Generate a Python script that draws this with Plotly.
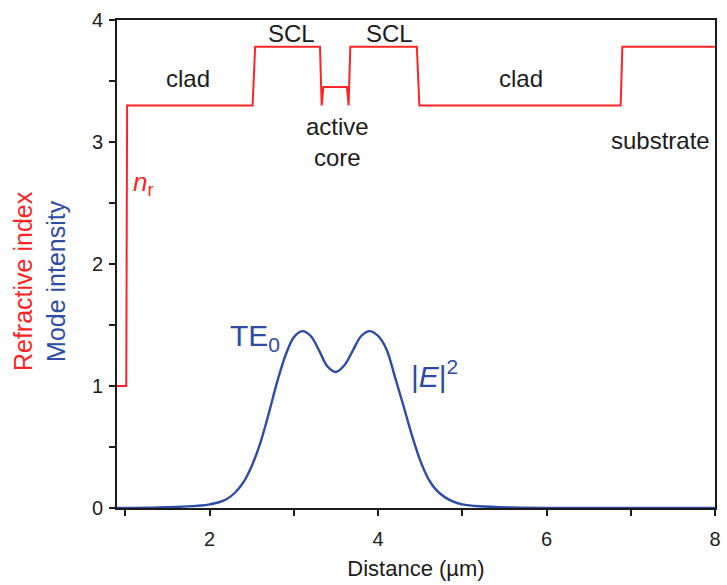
import plotly.graph_objects as go

# Refractive-index profile across the waveguide layers (step profile)
nr_x = [0.90, 1.01, 1.02, 2.51, 2.54, 3.31, 3.33, 3.35, 3.63, 3.65, 3.67, 4.46, 4.49, 6.88, 6.90, 8.00]
nr_y = [1.00, 1.00, 3.30, 3.30, 3.78, 3.78, 3.30, 3.45, 3.45, 3.30, 3.78, 3.78, 3.30, 3.30, 3.78, 3.78]

# TE0 mode intensity |E|^2
te_x = [0.90, 1.40, 1.80, 1.90, 2.00, 2.10, 2.20, 2.30, 2.40, 2.50, 2.60, 2.70, 2.80, 2.90,
        3.00, 3.10, 3.20, 3.30, 3.40, 3.50, 3.60, 3.70, 3.80, 3.90, 4.00, 4.10, 4.20,
        4.30, 4.40, 4.50, 4.60, 4.70, 4.80, 4.90, 5.00, 5.20, 5.60, 6.20, 8.00]
te_y = [0.000, 0.004, 0.015, 0.020, 0.030, 0.045, 0.072, 0.125, 0.210, 0.345, 0.530, 0.770,
        1.030, 1.250, 1.400, 1.450, 1.410, 1.290, 1.160, 1.115, 1.170, 1.290, 1.410, 1.450,
        1.410, 1.300, 1.075, 0.840, 0.600, 0.390, 0.235, 0.140, 0.085, 0.050, 0.030, 0.014,
        0.004, 0.000, 0.000]

x_major = [2, 4, 6, 8]
x_minor = [1, 3, 5, 7]
y_major = [0, 1, 2, 3, 4]
y_minor = [0.5, 1.5, 2.5, 3.5]

# Layer labels: (text, x, y)
layer_labels = [
    ("clad", 1.74, 3.52),
    ("SCL", 2.97, 3.89),
    ("SCL", 4.13, 3.89),
    ("active<br>core", 3.52, 3.00),
    ("clad", 5.70, 3.52),
    ("substrate", 7.35, 3.01),
]

RED = "#ff2424"
BLUE = "#2d4ca3"
INK = "#1c1c1c"
FONT = "Liberation Sans, Arial, sans-serif"

fig = go.Figure()
fig.add_trace(go.Scatter(x=te_x, y=te_y, mode="lines", line=dict(color=BLUE, width=2.4, shape="spline", smoothing=1.0),
                         hoverinfo="skip", showlegend=False))
fig.add_trace(go.Scatter(x=nr_x, y=nr_y, mode="lines", line=dict(color=RED, width=2),
                         hoverinfo="skip", showlegend=False))

for text, x, y in layer_labels:
    fig.add_annotation(x=x, y=y, text=text, showarrow=False, xanchor="center", yanchor="middle",
                       font=dict(family=FONT, size=24, color=INK))

fig.add_annotation(x=1.22, y=2.66, text="<i>n</i><sub>r</sub>", showarrow=False,
                   font=dict(family=FONT, size=26, color=RED))
fig.add_annotation(x=2.54, y=1.40, text="TE<sub>0</sub>", showarrow=False,
                   font=dict(family=FONT, size=30, color=BLUE))
fig.add_annotation(x=4.67, y=1.10, text="|<i>E</i>|<sup>2</sup>", showarrow=False,
                   font=dict(family=FONT, size=30, color=BLUE))

# Two-colour y-axis title
fig.add_annotation(x=-0.184, y=0.465, xref="paper", yref="paper", text="Refractive index", textangle=-90,
                   showarrow=False, font=dict(family=FONT, size=25, color=RED))
fig.add_annotation(x=-0.129, y=0.465, xref="paper", yref="paper", text="Mode intensity", textangle=-90,
                   showarrow=False, font=dict(family=FONT, size=25, color=BLUE))

axis_common = dict(showgrid=False, zeroline=False, showline=True, linecolor=INK, linewidth=2,
                   mirror=True, ticks="outside", ticklen=6, tickwidth=1.5, tickcolor=INK,
                   tickfont=dict(family=FONT, size=20, color=INK), layer="below traces")
minor_common = dict(ticks="outside", ticklen=6, tickwidth=1.5, tickcolor=INK, showgrid=False)

fig.update_layout(
    width=727, height=585,
    margin=dict(l=117, r=6, t=20, b=77),
    paper_bgcolor="white", plot_bgcolor="white",
    xaxis=dict(range=[0.9, 8.0], tickvals=x_major, ticklabelstandoff=6,
               minor=dict(tickvals=x_minor, **minor_common),
               title=dict(text="Distance (µm)", font=dict(family=FONT, size=22, color=INK), standoff=12),
               **axis_common),
    yaxis=dict(range=[0, 4], tickvals=y_major, ticklabelstandoff=2,
               minor=dict(tickvals=y_minor, **minor_common),
               **axis_common),
)

fig.write_html("out.html")
